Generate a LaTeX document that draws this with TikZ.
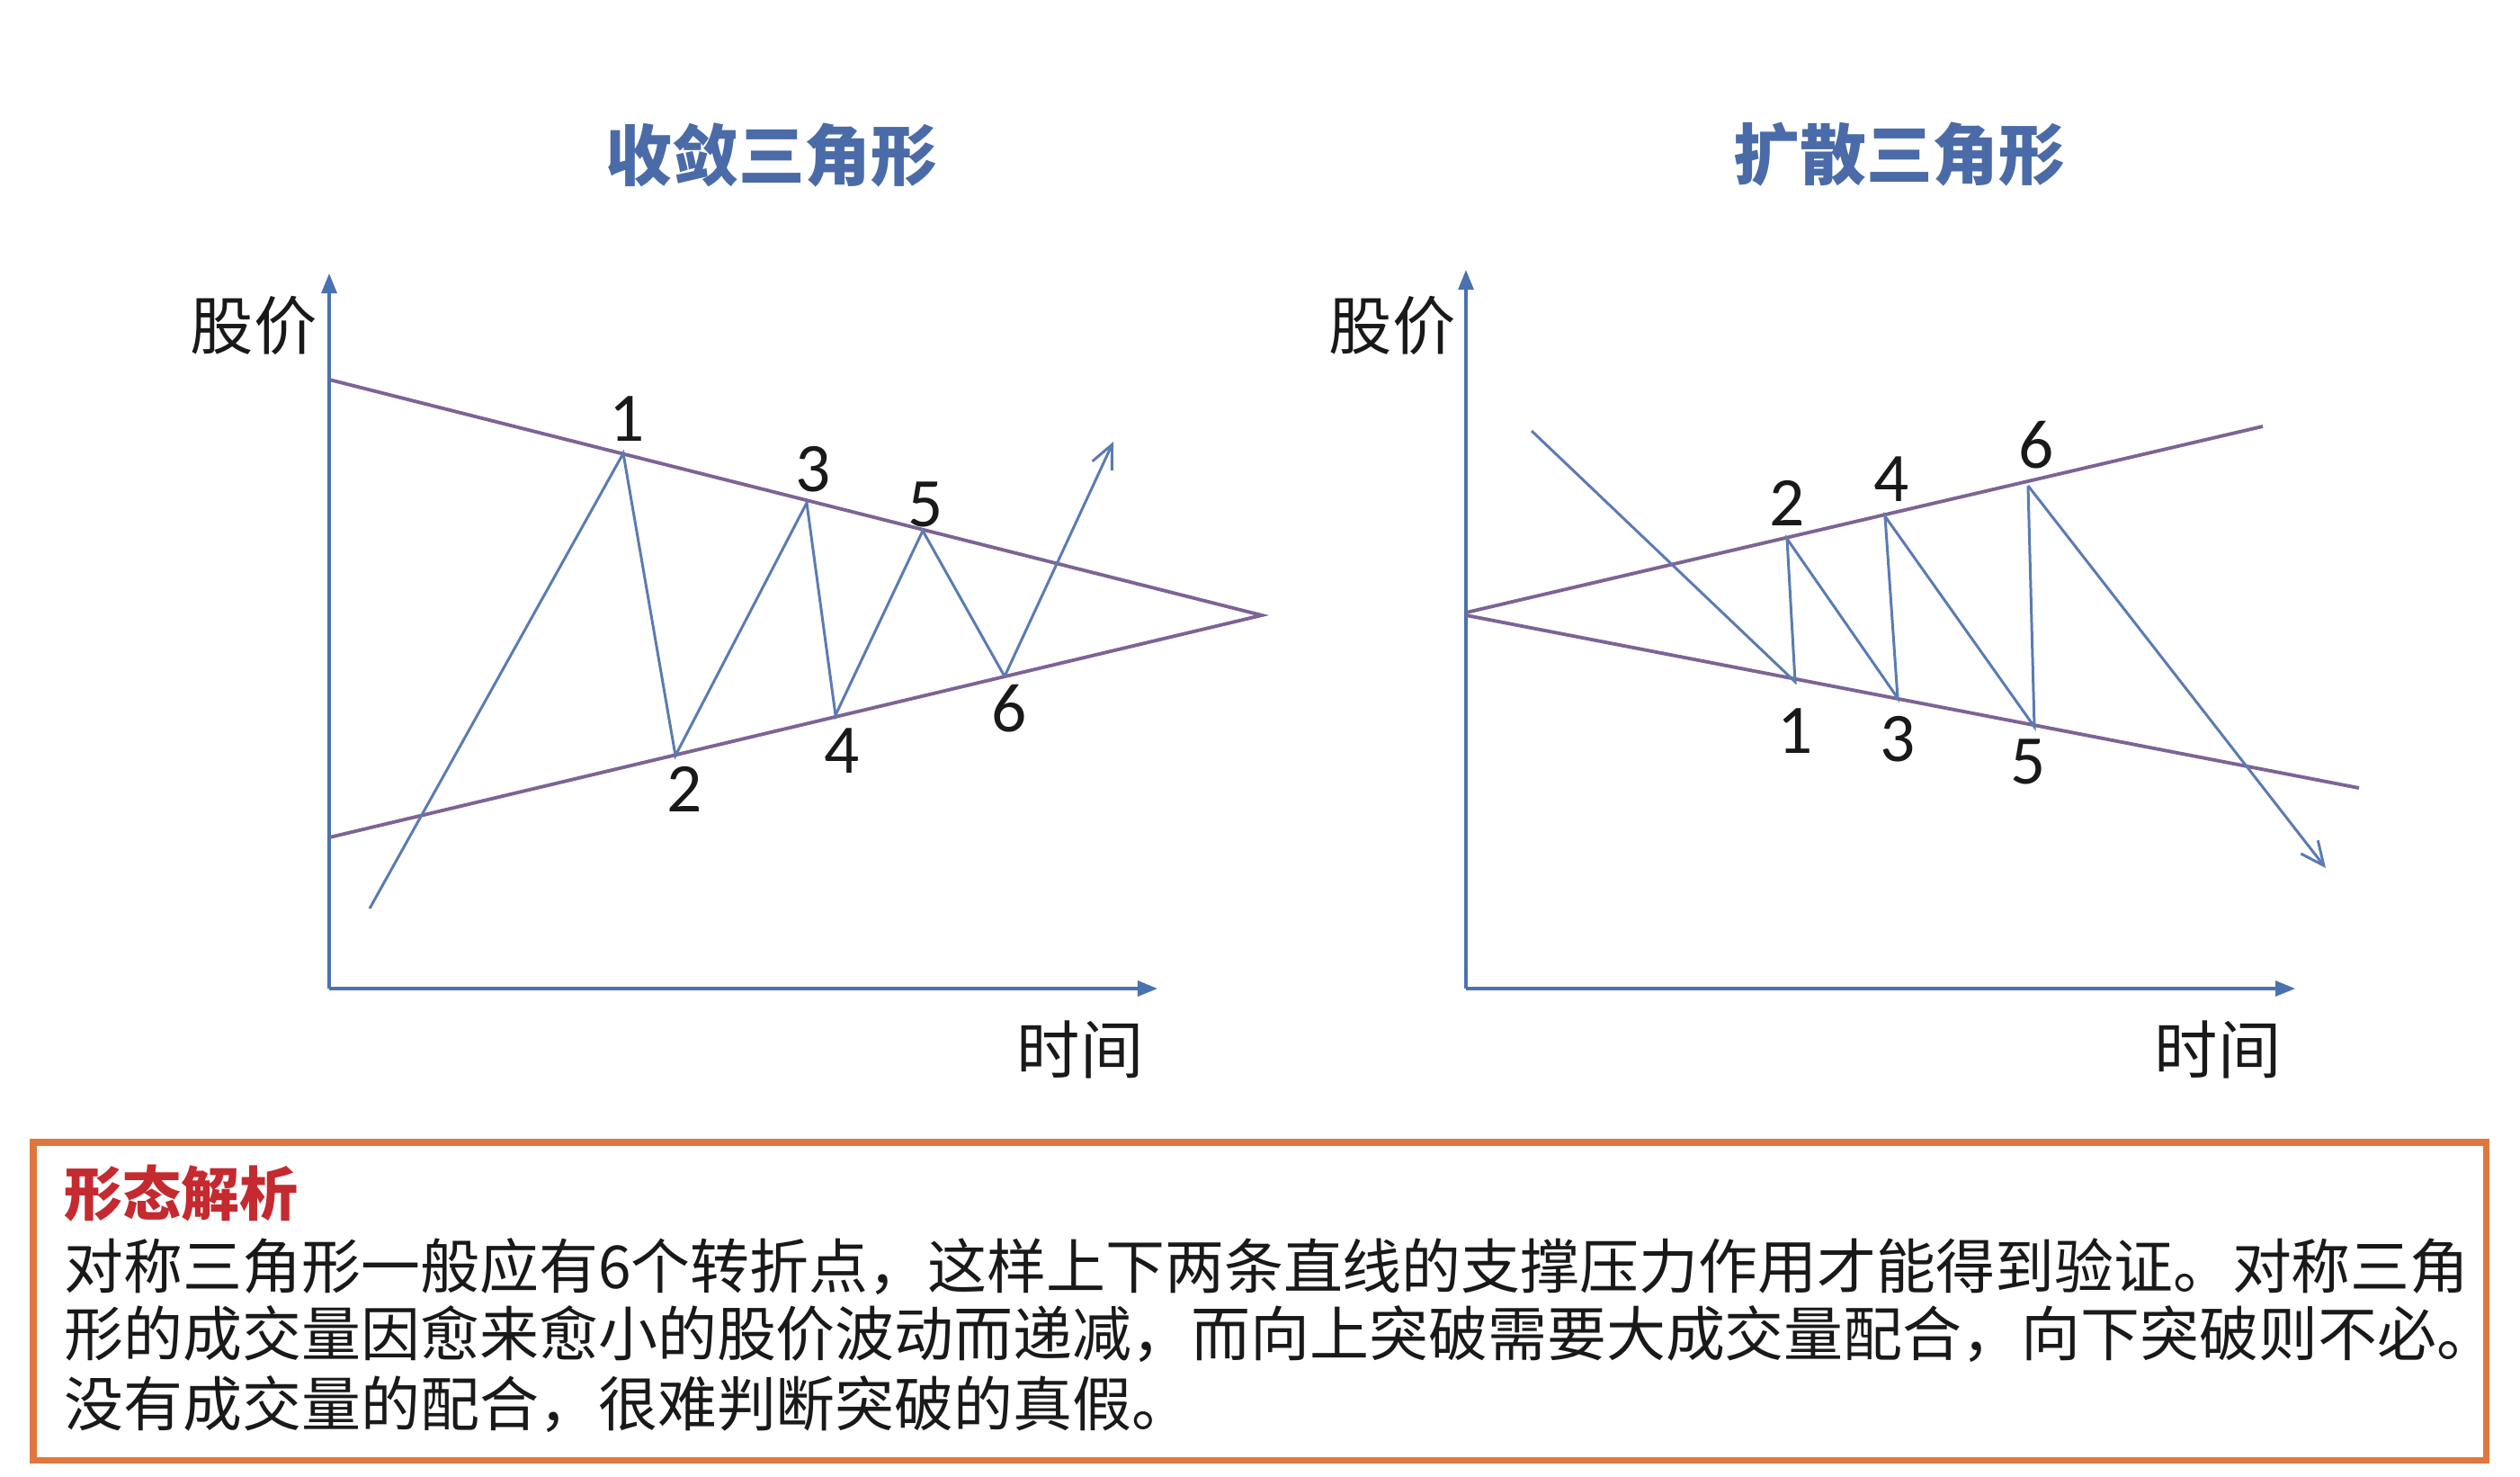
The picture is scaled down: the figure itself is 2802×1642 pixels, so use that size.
\documentclass[tikz,border=0pt]{standalone}
\usepackage{fontspec}
\setmainfont{Carlito}
\newfontfamily\cjk{Noto Sans CJK SC}
\usetikzlibrary{arrows.meta}
\definecolor{axisblue}{HTML}{4A72B0}
\definecolor{pathblue}{HTML}{5A7BB3}
\definecolor{trendpurple}{HTML}{7D6396}
\definecolor{titleblue}{HTML}{4A6BA8}
\definecolor{boxorange}{HTML}{E0773F}
\definecolor{headred}{HTML}{C42A2F}
\tikzset{
  axisline/.style={axisblue, line width=0.9pt, -{Triangle[length=0.22cm,width=0.17cm]}},
  trendline/.style={trendpurple, line width=1.1pt},
  pricepath/.style={pathblue, line width=0.85pt, line join=miter},
  pricearrow/.style={pathblue, line width=0.85pt, -{Straight Barb[length=0.26cm,width=0.24cm]}},
  titletext/.style={inner sep=0pt, text=titleblue, font=\cjk\bfseries\fontsize{21pt}{25pt}\selectfont},
  axislabel/.style={inner sep=0pt, text=black!90, font=\cjk\fontsize{20pt}{24pt}\selectfont},
  numlabel/.style={inner sep=0pt, text=black!90, font=\fontsize{22pt}{26pt}\selectfont},
  bodytext/.style={inner sep=0pt, anchor=west, text=black!90, font=\cjk\fontsize{18.75pt}{22pt}\selectfont},
  headtext/.style={inner sep=0pt, anchor=west, text=headred, font=\cjk\bfseries\fontsize{18.5pt}{22pt}\selectfont},
  notebox/.style={draw=boxorange, line width=2pt}
}
\begin{document}
\begin{tikzpicture}[x=0.01cm,y=-0.01cm]
\useasboundingbox (0,0) rectangle (2802,1642);
\fill[white] (0,0) rectangle (2802,1642);

% titles
\node[titletext] (t1) at (858,172) {收敛三角形};
\node[titletext] (t2) at (2112,172) {扩散三角形};

% ---------- left chart ----------
\coordinate (lo) at (366,1099);
\coordinate (lyt) at (366,304);
\coordinate (lxt) at (1287,1099);
\draw[axisline] (lo) -- (lyt);
\draw[axisline] (lo) -- (lxt);
\node[axislabel] (ly) at (282,362) {股价};
\node[axislabel] (lx) at (1201,1167) {时间};

\coordinate (lu0) at (366,422);
\coordinate (lapex) at (1403,684);
\coordinate (ll0) at (366,931);
\draw[trendline] (lu0) -- (lapex) -- (ll0);

\coordinate (ls) at (411,1010);
\coordinate (lp1) at (693,504);
\coordinate (lp2) at (751,840);
\coordinate (lp3) at (897,559);
\coordinate (lp4) at (929,795);
\coordinate (lp5) at (1026,590);
\coordinate (lp6) at (1117,752);
\coordinate (lend) at (1238,491);
\draw[pricepath] (ls) -- (lp1) -- (lp2) -- (lp3) -- (lp4) -- (lp5) -- (lp6);
\draw[pricearrow] (lp6) -- (lend);

\node[numlabel] (ln1) at (697,466) {1};
\node[numlabel] (ln2) at (761,877) {2};
\node[numlabel] (ln3) at (904,522) {3};
\node[numlabel] (ln4) at (936,835) {4};
\node[numlabel] (ln5) at (1029,561) {5};
\node[numlabel] (ln6) at (1122,788) {6};

% ---------- right chart ----------
\coordinate (ro) at (1630,1099);
\coordinate (ryt) at (1630,300);
\coordinate (rxt) at (2552,1099);
\draw[axisline] (ro) -- (ryt);
\draw[axisline] (ro) -- (rxt);
\node[axislabel] (ry) at (1548,362) {股价};
\node[axislabel] (rx) at (2466,1167) {时间};

\coordinate (ru0) at (1630,681);
\coordinate (ru1) at (2516,474);
\coordinate (rl0) at (1630,684);
\coordinate (rl1) at (2623,876);
\draw[trendline] (ru0) -- (ru1);
\draw[trendline] (rl0) -- (rl1);

\coordinate (rs) at (1703,479);
\coordinate (rp1) at (1996,758);
\coordinate (rp2) at (1987,599);
\coordinate (rp3) at (2110,776);
\coordinate (rp4) at (2096,574);
\coordinate (rp5) at (2262,808);
\coordinate (rp6) at (2255,540);
\coordinate (rend) at (2586,965);
\draw[pricepath] (rs) -- (rp1) -- (rp2) -- (rp3) -- (rp4) -- (rp5) -- (rp6);
\draw[pricearrow] (rp6) -- (rend);

\node[numlabel] (rn1) at (1996,813) {1};
\node[numlabel] (rn2) at (1987,559) {2};
\node[numlabel] (rn3) at (2110,822) {3};
\node[numlabel] (rn4) at (2103,533) {4};
\node[numlabel] (rn5) at (2255,847) {5};
\node[numlabel] (rn6) at (2264,495) {6};

% ---------- note box ----------
\draw[notebox] (37,1270) rectangle (2764,1623);
\node[headtext] (head) at (71,1327) {形态解析};
\node[bodytext] (b1) at (71,1408) {对称三角形一般应有6个转折点，这样上下两条直线的支撑压力作用才能得到验证。对称三角};
\node[bodytext] (b2) at (71,1483) {形的成交量因愈来愈小的股价波动而递减，而向上突破需要大成交量配合，向下突破则不必。};
\node[bodytext] (b3) at (71,1561) {没有成交量的配合，很难判断突破的真假。};
\end{tikzpicture}
\end{document}
